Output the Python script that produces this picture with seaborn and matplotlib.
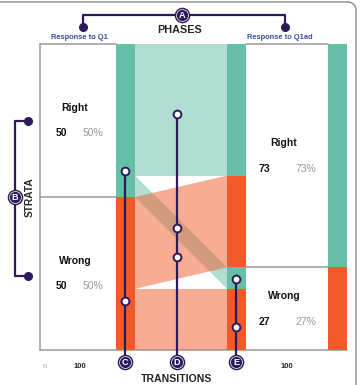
import numpy as np
import pandas as pd
import matplotlib
matplotlib.use("Agg")
import matplotlib.pyplot as plt
import seaborn as sns

# ---------------- data ----------------
phases = ["Response to Q1", "Response to Q1ad"]
strata = ["Right", "Wrong"]
q1_counts = [50, 50]
q1ad_counts = [73, 27]
flow_from = ["Right", "Right", "Wrong", "Wrong"]
flow_to = ["Right", "Wrong", "Right", "Wrong"]
flow_counts = [43, 7, 30, 20]
total_n = 100
section_titles = ["PHASES", "STRATA", "TRANSITIONS"]

# ---------------- style ----------------
sns.set_theme(style="white")
plt.rcParams['font.family'] = ['Liberation Sans', 'DejaVu Sans']

GREEN = "#66bfa6"
ORANGE = "#f15a29"
pal = {"Right": GREEN, "Wrong": ORANGE}
PURPLE = "#2c1a5a"
BLUE = "#3c4e9e"
GRID = "#9a9a9a"

S = 3.06  # px per count unit
fig = plt.figure(figsize=(3.6, 3.85), dpi=100)
ax = fig.add_axes([0, 0, 1, 1])
ax.set_xlim(0, 360)
ax.set_ylim(-35 / S, 350 / S)
ax.axis('off')


def Y(px):
    return (350 - px) / S


BOX_L = (40, 116)
BAR_L = (116, 135)
BAR_M = (227, 246)
BOX_R = (246, 328)
BAR_R = (328, 347)


def stack(counts):
    tops, bots = [], []
    cur = total_n
    for c in counts:
        tops.append(cur)
        bots.append(cur - c)
        cur -= c
    return tops, bots


def bar(xr, bottom, height, color):
    ax.bar((xr[0] + xr[1]) / 2, height, bottom=bottom, width=xr[1] - xr[0],
           color=color, linewidth=0, zorder=3)


# strata bars
lt, lb = stack(q1_counts)
rt, rb = stack(q1ad_counts)
for i, s in enumerate(strata):
    bar(BAR_L, lb[i], q1_counts[i], pal[s])
    bar(BAR_R, rb[i], q1ad_counts[i], pal[s])

# flows
df = pd.DataFrame({"from": flow_from, "to": flow_to, "n": flow_counts})
df["o_i"] = df["from"].map(strata.index)
df["d_i"] = df["to"].map(strata.index)
left = df.sort_values(["o_i", "d_i"])
cur = total_n
ltop = {}
for idx, r in left.iterrows():
    ltop[idx] = cur
    cur -= r["n"]
right = df.sort_values(["d_i", "o_i"])
cur = total_n
rtop = {}
for idx, r in right.iterrows():
    rtop[idx] = cur
    # middle bar segment coloured by origin
    bar(BAR_M, cur - r["n"], r["n"], pal[r["from"]])
    cur -= r["n"]

for idx, r in df.sort_values("o_i").iterrows():
    x0, x1 = BAR_L[1], BAR_M[0]
    t0, t1 = ltop[idx], rtop[idx]
    ax.fill([x0, x1, x1, x0], [t0, t1, t1 - r["n"], t0 - r["n"]],
            color=pal[r["from"]], alpha=0.5, linewidth=0, zorder=2)

# box lines
lw = 1.1
ax.plot([BOX_L[0], BOX_L[0]], [0, total_n], color=GRID, lw=lw, zorder=1)
ax.plot([BOX_L[0], BOX_L[1]], [total_n, total_n], color=GRID, lw=lw, zorder=1)
ax.plot([BOX_R[0], BOX_R[1]], [total_n, total_n], color=GRID, lw=lw, zorder=1)
ax.plot([BOX_L[0], BOX_L[1]], [lb[0], lb[0]], color=GRID, lw=lw, zorder=1)
ax.plot([BOX_R[0], BOX_R[1]], [rb[0], rb[0]], color=GRID, lw=lw, zorder=1)
ax.plot([BOX_L[0], BAR_R[1]], [0, 0], color=GRID, lw=lw, zorder=1)

# stratum labels
for counts, tops, bots, cx, dc, dp in [(q1_counts, lt, lb, 75, -14, 17.5),
                                        (q1ad_counts, rt, rb, 284, -20, 22)]:
    for i, s in enumerate(strata):
        mid = (tops[i] + bots[i]) / 2
        ax.text(cx, mid + 4.2, s, fontsize=7.5, weight='bold', ha='center',
                va='center', color='#111111')
        ax.text(cx + dc, mid - 4.2, f"{counts[i]}", fontsize=7.5, weight='bold',
                ha='center', va='center', color='#111111')
        ax.text(cx + dp, mid - 4.2, f"{round(100 * counts[i] / total_n)}%",
                fontsize=7.5, ha='center', va='center', color='#999999')

# N row
ax.text(45, Y(366), "N", fontsize=4, color='#999999', ha='center', va='center')
ax.text(80, Y(366), f"{total_n}", fontsize=5.5, weight='bold', ha='center', va='center')
ax.text(287, Y(366), f"{total_n}", fontsize=5.5, weight='bold', ha='center', va='center')

# titles
ax.text(180, Y(30), section_titles[0], fontsize=7.8, weight='bold', ha='center', va='center')
ax.text(79, Y(38), phases[0], fontsize=5.4, weight='bold', color=BLUE, ha='center', va='center')
ax.text(280, Y(38), phases[1], fontsize=5.4, weight='bold', color=BLUE, ha='center', va='center')
ax.text(30, Y(197), section_titles[1], fontsize=7.3, weight='bold', rotation=90,
        ha='center', va='center')
ax.text(177, Y(379), section_titles[2], fontsize=7.6, weight='bold', ha='center', va='center')


# annotations
def badge(x, y, letter):
    ax.plot(x, y, 'o', ms=10.2, mfc=PURPLE, mec=PURPLE, zorder=8)
    ax.plot(x, y, 'o', ms=8.6, mfc='none', mec='white', mew=0.5, zorder=9)
    ax.text(x, y - 0.15, letter, color='white', fontsize=6.6, weight='bold', ha='center',
            va='center', zorder=10)


def dot(x, y):
    ax.plot(x, y, 'o', ms=5.5, mfc=PURPLE, mec=PURPLE, zorder=8)


def ring(x, y):
    ax.plot(x, y, 'o', ms=5.6, mfc='white', mec=PURPLE, mew=1.4, zorder=8)


plw = 1.6
ax.plot([83, 83, 285, 285], [Y(27), Y(15), Y(15), Y(27)], color=PURPLE, lw=plw,
        solid_joinstyle='round', zorder=7)
dot(83, Y(27)); dot(285, Y(27))
badge(182, Y(15), "A")

ax.plot([28, 15, 15, 28], [Y(121), Y(121), Y(276), Y(276)], color=PURPLE, lw=plw,
        solid_joinstyle='round', zorder=7)
dot(28, Y(121)); dot(28, Y(276))
badge(15, Y(197), "B")

for x, top, rings, letter in [(125, 171, [171, 301], "C"),
                              (177, 114, [114, 228, 257], "D"),
                              (236, 279, [279, 327], "E")]:
    ax.plot([x, x], [Y(top), Y(362)], color=PURPLE, lw=plw, zorder=7)
    for r in rings:
        ring(x, Y(r))
    badge(x, Y(362), letter)

# outer rounded frame (top and right)
th = np.linspace(np.pi / 2, 0, 20)
rad = 8
fx = np.concatenate([[-2], 348 + rad * np.cos(th), [356]])
fy = np.concatenate([[2], 10 - rad * np.sin(th), [390]])
ax.plot(fx, [Y(v) for v in fy], color='#8a8a8a', lw=1.0, zorder=1, clip_on=False)

fig.savefig("out.png", dpi=100)
